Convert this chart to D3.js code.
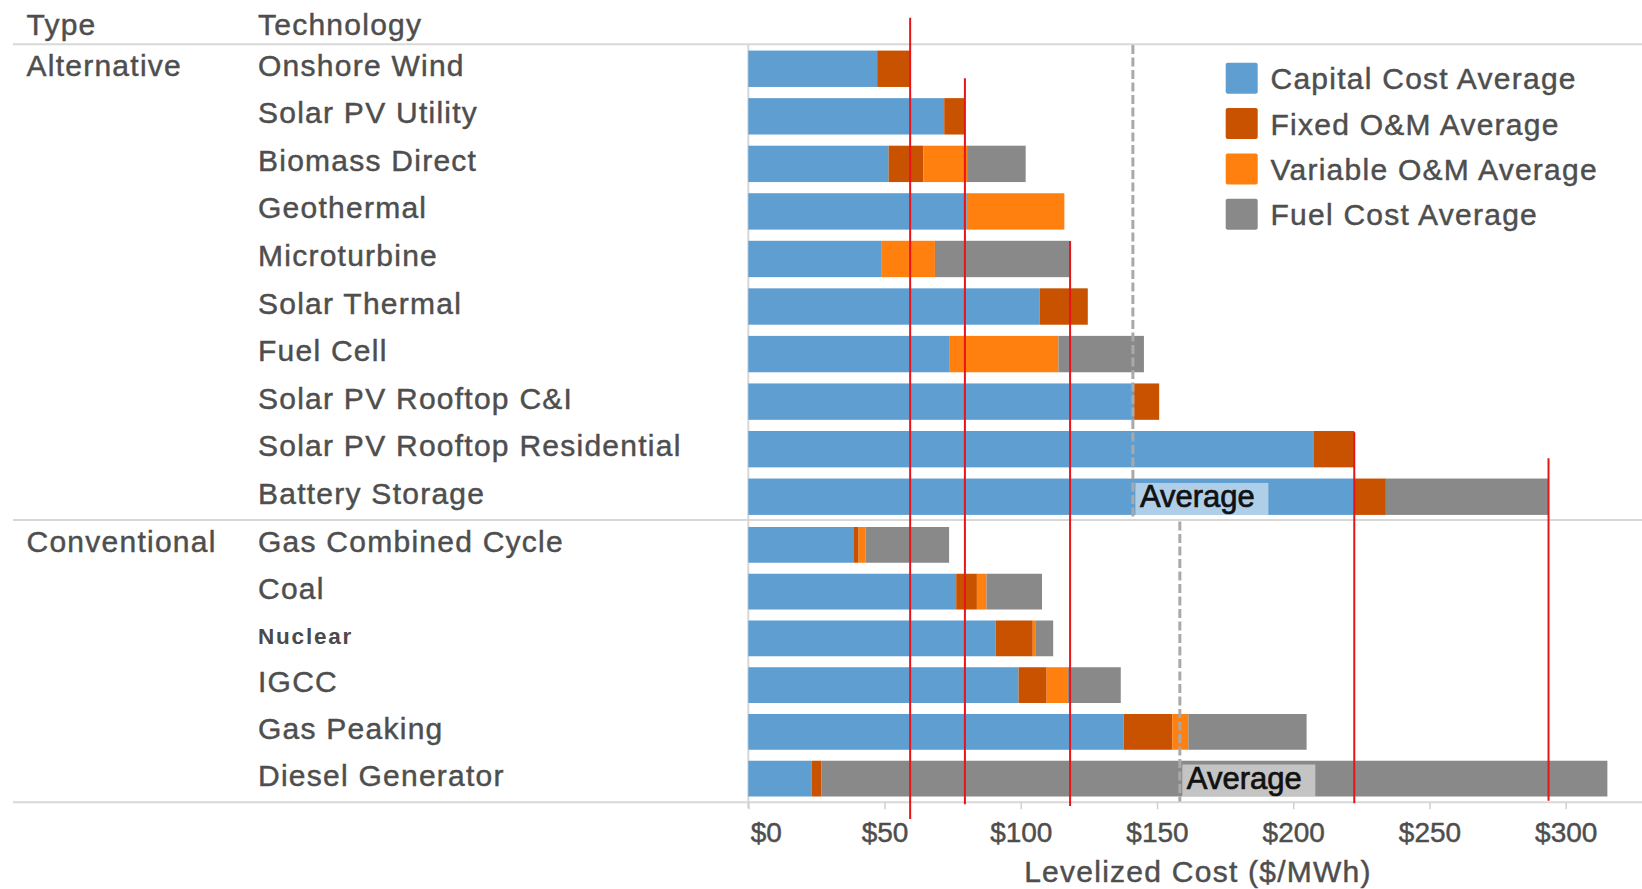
<!DOCTYPE html>
<html>
<head>
<meta charset="utf-8">
<script src="https://cdn.jsdelivr.net/npm/d3@7"></script>
<style>
  html, body { margin: 0; padding: 0; background: #fff; }
  svg { display: block; }
  text { font-family: "Liberation Sans", Arial, sans-serif; }
</style>
</head>
<body>
<svg id="chart" width="1642" height="889"></svg>
<script>
// ---- data: levelized cost components ($/MWh) ----
const technologies = [
  "Onshore Wind", "Solar PV Utility", "Biomass Direct", "Geothermal", "Microturbine",
  "Solar Thermal", "Fuel Cell", "Solar PV Rooftop C&I", "Solar PV Rooftop Residential",
  "Battery Storage", "Gas Combined Cycle", "Coal", "Nuclear", "IGCC", "Gas Peaking",
  "Diesel Generator"
];
const techTypes = [
  "Alternative", "Alternative", "Alternative", "Alternative", "Alternative",
  "Alternative", "Alternative", "Alternative", "Alternative", "Alternative",
  "Conventional", "Conventional", "Conventional", "Conventional", "Conventional",
  "Conventional"
];
const typeNames = ["Alternative", "Conventional"];

const capitalCost = [47.3, 71.9, 51.5, 80.2, 49.0, 106.9, 73.7, 141.6, 207.6, 222.3, 38.8, 76.3, 90.8, 99.2, 137.8, 23.3];
const fixedOM     = [12.1,  7.6, 12.7,  0.0,  0.0,  17.7,  0.0,   9.2,  14.8,  11.7,  1.7,  7.6, 13.6, 10.3,  17.8,  3.6];
const variableOM  = [ 0.0,  0.0, 16.1, 35.8, 19.5,   0.0, 40.1,   0.0,   0.0,   0.0,  2.6,  3.5,  0.9,  7.8,   5.9,  0.0];
const fuelCost    = [ 0.0,  0.0, 21.5,  0.0, 49.6,   0.0, 31.4,   0.0,   0.0,  59.7, 30.6, 20.4,  6.6, 19.4,  43.4, 288.4];

const seriesKeys   = ["capital", "fixed", "variable", "fuel"];
const seriesLabels = ["Capital Cost Average", "Fixed O&M Average", "Variable O&M Average", "Fuel Cost Average"];
const seriesColors = ["#5f9ed1", "#c85200", "#ff800e", "#898989"];

const xTicks = [0, 50, 100, 150, 200, 250, 300];

// technologies whose totals are marked with a red rule
const markedTechs = ["Onshore Wind", "Solar PV Utility", "Microturbine", "Solar PV Rooftop Residential", "Battery Storage"];

// ---- layout ----
const W = 1642;
const lineLeft = 13;
const headerY = 44.3;
const dividerY = 520;
const bottomY = 802.3;
const groupRanges = { "Alternative": [45, 520.5], "Conventional": [521.5, 802] };
const typeX = 26.5, techX = 258;

const rows = technologies.map((t, i) => ({
  tech: t, type: techTypes[i],
  capital: capitalCost[i], fixed: fixedOM[i], variable: variableOM[i], fuel: fuelCost[i],
  total: capitalCost[i] + fixedOM[i] + variableOM[i] + fuelCost[i]
}));

const svg = d3.select("#chart");

const x = d3.scaleLinear().domain([0, 300]).range([748.3, 1565.7]);

// one band scale per type pane
const bands = {};
typeNames.forEach(tp => {
  bands[tp] = d3.scaleBand()
    .domain(rows.filter(r => r.type === tp).map(r => r.tech))
    .range(groupRanges[tp])
    .paddingInner(0.235)
    .paddingOuter(0.1175);
});
const yTop = r => bands[r.type](r.tech);
const bw = r => bands[r.type].bandwidth();
const yMid = r => yTop(r) + bw(r) / 2;

const color = d3.scaleOrdinal().domain(seriesKeys).range(seriesColors);

// ---- grid / separators ----
const gridColor = "#d8d8d8";
[headerY, dividerY, bottomY].forEach(yy => {
  svg.append("line")
    .attr("x1", lineLeft).attr("x2", W)
    .attr("y1", yy).attr("y2", yy)
    .attr("stroke", gridColor).attr("stroke-width", 2);
});
svg.append("line")
  .attr("x1", x(0)).attr("x2", x(0))
  .attr("y1", headerY).attr("y2", bottomY + 6)
  .attr("stroke", gridColor).attr("stroke-width", 2);

// ---- header ----
const textColor = "#4e4e4e";
const labelStyle = sel => sel
  .attr("font-size", 30)
  .attr("letter-spacing", 1.25)
  .attr("fill", textColor)
  .attr("stroke", textColor)
  .attr("stroke-width", 0.45);

svg.append("text").attr("x", typeX).attr("y", 35).text("Type").call(labelStyle);
svg.append("text").attr("x", techX).attr("y", 35).text("Technology").call(labelStyle);

// ---- row labels ----
typeNames.forEach(tp => {
  const first = rows.find(r => r.type === tp);
  svg.append("text").attr("x", typeX).attr("y", yMid(first) + 7).text(tp).call(labelStyle);
});

svg.append("g").selectAll("text")
  .data(rows)
  .join("text")
  .attr("x", techX)
  .attr("y", d => yMid(d) + (d.tech === "Nuclear" ? 5.5 : 7))
  .text(d => d.tech)
  .each(function (d) {
    const t = d3.select(this);
    if (d.tech === "Nuclear") {
      t.attr("font-family", "DejaVu Sans, Verdana, sans-serif")
        .attr("font-weight", "bold")
        .attr("font-size", 22.5)
        .attr("letter-spacing", 1.8)
        .attr("fill", "#4a4a4a");
    } else {
      t.call(labelStyle);
    }
  });

// ---- stacked bars ----
const stacked = d3.stack().keys(seriesKeys)(rows);

svg.append("g")
  .selectAll("g")
  .data(stacked)
  .join("g")
  .attr("fill", s => color(s.key))
  .selectAll("rect")
  .data(s => s.filter(seg => seg[1] - seg[0] > 0))
  .join("rect")
  .attr("x", seg => x(seg[0]))
  .attr("width", seg => x(seg[1]) - x(seg[0]))
  .attr("y", seg => yTop(seg.data))
  .attr("height", seg => bw(seg.data));

// ---- type averages (dashed reference lines with label) ----
typeNames.forEach(tp => {
  const groupRows = rows.filter(r => r.type === tp);
  const avg = d3.mean(groupRows, r => r.total);
  const [g0, g1] = groupRanges[tp];
  const xa = x(avg);
  svg.append("line")
    .attr("x1", xa).attr("x2", xa)
    .attr("y1", g0).attr("y2", g1 - 0.5)
    .attr("stroke", "#a9a9a9")
    .attr("stroke-width", 3)
    .attr("stroke-dasharray", "9,3.5");

  const last = groupRows[groupRows.length - 1];
  const barBottom = yTop(last) + bw(last);
  svg.append("rect")
    .attr("x", xa + 2.5).attr("y", barBottom - 32)
    .attr("width", 133).attr("height", 32)
    .attr("fill", "#ffffff").attr("fill-opacity", 0.5);
  svg.append("text")
    .attr("x", xa + 7).attr("y", barBottom - 7.5)
    .attr("font-size", 31)
    .attr("fill", "#111")
    .attr("stroke", "#111")
    .attr("stroke-width", 0.7)
    .text("Average");
});

// ---- red rules at selected totals ----
const markerSpan = [[17.8, 819], [78.3, 804.3], [241, 806], [432.3, 803.3], [458.3, 800.7]];
markedTechs.forEach((t, i) => {
  const r = rows.find(d => d.tech === t);
  svg.append("line")
    .attr("x1", x(r.total)).attr("x2", x(r.total))
    .attr("y1", markerSpan[i][0]).attr("y2", markerSpan[i][1])
    .attr("stroke", "#e8141c")
    .attr("stroke-width", 2);
});

// ---- x axis ----
const axis = svg.append("g")
  .attr("transform", `translate(0,${bottomY})`)
  .call(d3.axisBottom(x).tickValues(xTicks).tickFormat(d => "$" + d).tickSize(7).tickPadding(0));
axis.select(".domain").remove();
axis.selectAll(".tick line").attr("stroke", "#cfcfcf").attr("stroke-width", 1.5);
axis.selectAll(".tick text")
  .attr("font-family", "\"Liberation Sans\", Arial, sans-serif")
  .attr("font-size", 28)
  .attr("fill", textColor)
  .attr("stroke", textColor)
  .attr("stroke-width", 0.45)
  .attr("dy", null)
  .attr("y", 39.5)
  .attr("x", d => d === 0 ? 2 : 0)
  .attr("text-anchor", d => d === 0 ? "start" : "middle");

svg.append("text")
  .attr("x", 1198).attr("y", 882)
  .attr("text-anchor", "middle")
  .call(labelStyle)
  .text("Levelized Cost ($/MWh)");

// ---- legend ----
const legend = svg.append("g");
seriesKeys.forEach((k, i) => {
  const cy = 78.3 + i * 45.3;
  legend.append("rect")
    .attr("x", 1225.7).attr("y", cy - 15.5)
    .attr("width", 32).attr("height", 31)
    .attr("rx", 2)
    .attr("fill", color(k));
  legend.append("text")
    .attr("x", 1270.5).attr("y", cy + 11)
    .call(labelStyle)
    .text(seriesLabels[i]);
});
</script>
</body>
</html>
